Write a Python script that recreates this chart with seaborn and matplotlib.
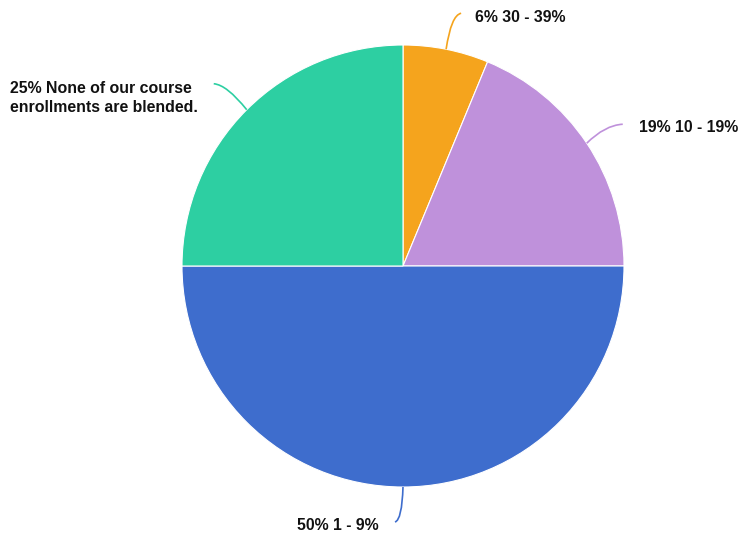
import numpy as np
import matplotlib
matplotlib.use("Agg")
import matplotlib.pyplot as plt
from matplotlib.path import Path
from matplotlib.patches import PathPatch
import seaborn as sns

# Datos
categorias = ['30 - 39%', '10 - 19%', '1 - 9%', 'None of our course\nenrollments are blended.']
porcentajes = [6.25, 18.75, 50.0, 25.0]
etiquetas_pct = ['6%', '19%', '50%', '25%']
colores = ['#F5A41D', '#BF91DB', '#3E6DCD', '#2DCFA2']

sns.set_theme(style='white')
plt.rcParams['font.family'] = ['Liberation Sans', 'DejaVu Sans']

W, H = 743, 538
fig = plt.figure(figsize=(W / 100, H / 100), dpi=100)
ax = fig.add_axes([0, 0, 1, 1])

cx, cy, r = 403, H - 266, 221
wedges, _ = ax.pie(porcentajes, colors=colores, startangle=90, counterclock=False,
                   center=(cx, cy), radius=r, frame=True,
                   wedgeprops=dict(edgecolor='white', linewidth=0.8))
ax.set_xlim(0, W)
ax.set_ylim(0, H)
ax.set_aspect('equal')
ax.axis('off')

# Lineas guia: (control dx, dy), (fin dx, dy) relativos al punto medio del borde (y hacia arriba)
guias = [((5, 34), (15, 36)),
         ((18, 18), (36, 19)),
         ((-1, -33), (-8, -35)),
         ((-20, 25), (-33, 26))]
# posicion del texto, alineacion
textos = [((475, 17), 'left'),
          ((639, 128), 'left'),
          ((379, 525), 'right'),
          ((10, 98), 'left')]

for w, col, (c, e), pct, cat, ((tx, ty), ha) in zip(wedges, colores, guias, etiquetas_pct, categorias, textos):
    ang = np.deg2rad((w.theta1 + w.theta2) / 2)
    x0, y0 = cx + r * np.cos(ang), cy + r * np.sin(ang)
    verts = [(x0, y0), (x0 + c[0], y0 + c[1]), (x0 + e[0], y0 + e[1])]
    path = Path(verts, [Path.MOVETO, Path.CURVE3, Path.CURVE3])
    ax.add_patch(PathPatch(path, facecolor='none', edgecolor=col, linewidth=1.2))
    ax.text(tx, H - ty, f'{pct} {cat}', ha=ha, va='center', fontsize=11.4,
            fontweight='bold', color='#111111', linespacing=1.3)

fig.savefig('out.png', dpi=100)
